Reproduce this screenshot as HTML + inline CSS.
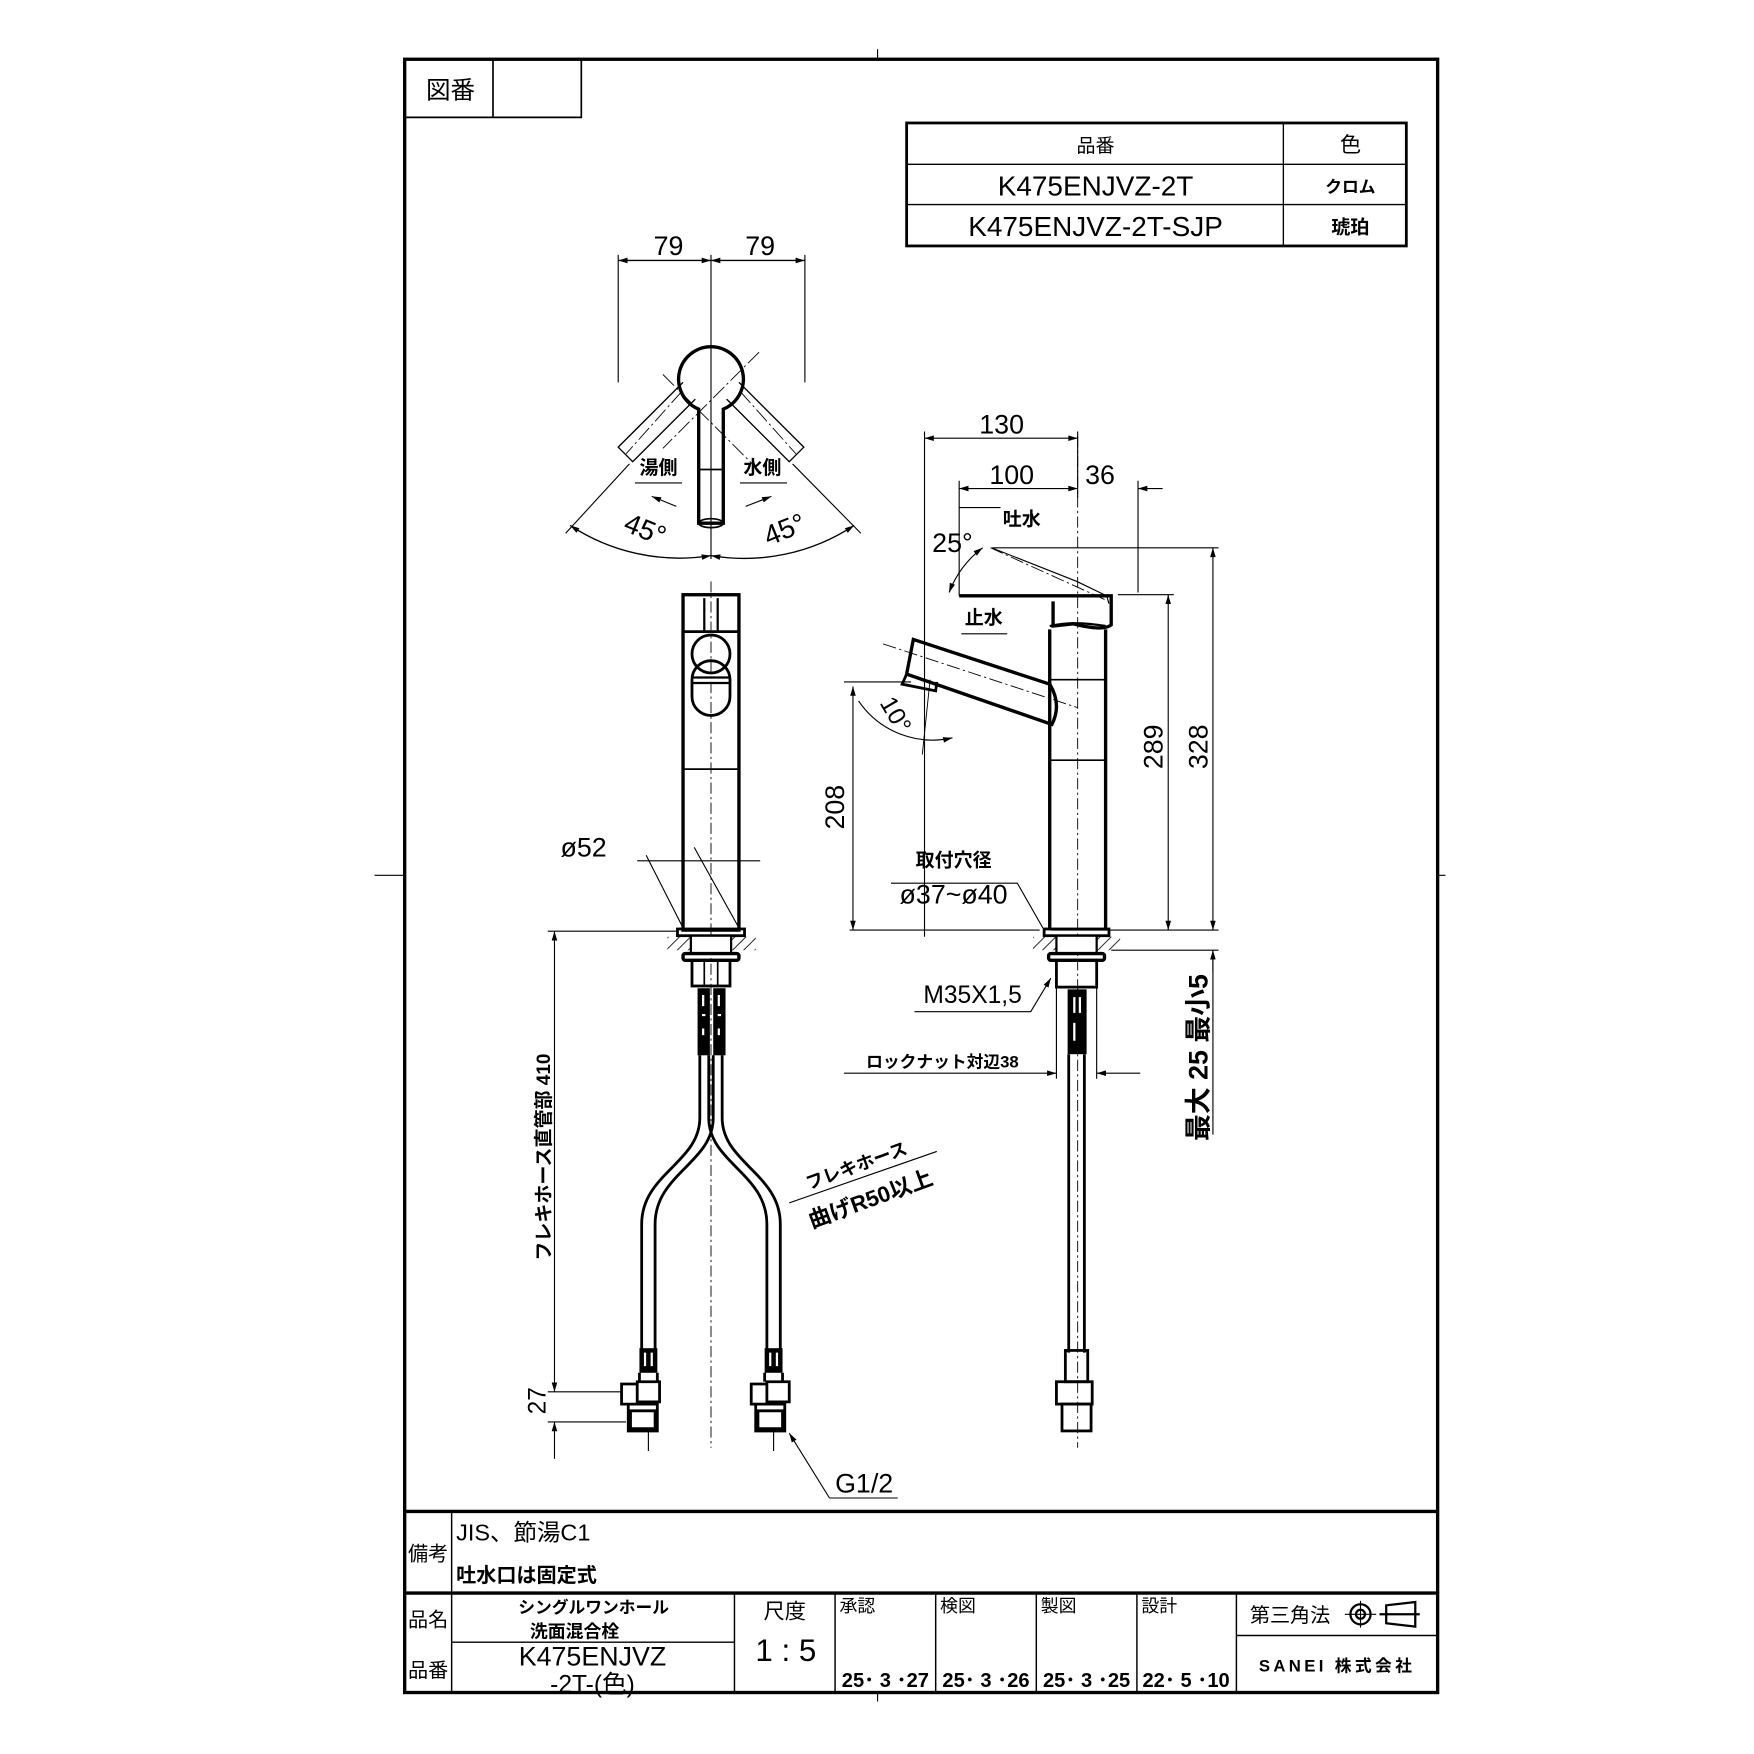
<!DOCTYPE html>
<html><head><meta charset="utf-8"><style>
html,body{margin:0;padding:0;background:#fff}
svg{display:block}
text{font-family:"Liberation Sans","Noto Sans CJK JP",sans-serif;fill:#000}
.b{font-weight:bold}
</style></head><body>
<svg width="1754" height="1754" viewBox="0 0 1569 1569" xmlns="http://www.w3.org/2000/svg">
<defs>
<marker id="a" viewBox="0 0 10 6" refX="10" refY="3" markerWidth="14" markerHeight="5" orient="auto-start-reverse" markerUnits="userSpaceOnUse"><path d="M0,0L10,3L0,6z" fill="#000"/></marker>
<pattern id="h" width="7" height="7" patternUnits="userSpaceOnUse" patternTransform="rotate(45)"><line x1="0" y1="0" x2="0" y2="7" stroke="#000" stroke-width="1.5"/></pattern>
</defs>
<g fill="none" stroke="#000">
<rect x="362" y="53" width="924" height="1461" stroke-width="3"/>
<line x1="785" y1="44" x2="785" y2="53" stroke-width="1"/>
<line x1="335" y1="783" x2="362" y2="783" stroke-width="1"/>
<line x1="1286" y1="783" x2="1293" y2="783" stroke-width="1"/>
<line x1="785" y1="1514" x2="785" y2="1522" stroke-width="1"/>
<path d="M362,105H520V53M441,53V105" stroke-width="1.5"/>
<rect x="811" y="110" width="447" height="110" stroke-width="2.5"/>
<path d="M811,147H1258M811,183H1258M1148,110V220" stroke-width="1.2"/>
<path d="M362,1352H1286M362,1425H1286" stroke-width="3"/>
<path d="M404,1352V1514M657,1425V1514M747,1425V1514M837,1425V1514M927,1425V1514M1017,1425V1514M1106,1425V1514M404,1469H657M1106,1463H1286" stroke-width="1.3"/>
</g>
<g font-size="21" text-anchor="middle">
<text x="403" y="88" font-size="22">図番</text>
<text x="980" y="136" font-size="17">品番</text>
<text x="1208" y="136" font-size="19">色</text>
<text x="980" y="175" font-size="25">K475ENJVZ-2T</text>
<text x="980" y="211" font-size="25">K475ENJVZ-2T-SJP</text>
<text x="1208" y="172" font-size="15" class="b">クロム</text>
<text x="1208" y="209" font-size="17" class="b">琥珀</text>
<text x="383" y="1396" font-size="18">備考</text>
<text x="383" y="1455" font-size="18">品名</text>
<text x="383" y="1500" font-size="18">品番</text>
<text x="408" y="1378" font-size="21" text-anchor="start">JIS、節湯C1</text>
<text x="408" y="1415" font-size="18" class="b" text-anchor="start">吐水口は固定式</text>
<text x="531" y="1443" font-size="15" class="b">シングルワンホール</text>
<text x="514" y="1465" font-size="16" class="b">洗面混合栓</text>
<text x="530" y="1490" font-size="24">K475ENJVZ</text>
<text x="530" y="1514" font-size="22">-2T-(色)</text>
<text x="702" y="1448" font-size="19">尺度</text>
<text x="703" y="1486" font-size="28">1 : 5</text>
<g font-size="16" text-anchor="start"><text x="751" y="1442">承認</text><text x="841" y="1442">検図</text><text x="931" y="1442">製図</text><text x="1021" y="1442">設計</text></g>
<g font-size="18" class="b"><text x="792" y="1509">25･ 3 ･27</text><text x="882" y="1509">25･ 3 ･26</text><text x="972" y="1509">25･ 3 ･25</text><text x="1061" y="1509">22･ 5 ･10</text></g>
<text x="1154" y="1451" font-size="18">第三角法</text>
<text x="1196" y="1495" font-size="15" class="b" letter-spacing="3">SANEI 株式会社</text>
</g>
<g fill="none" stroke="#000" stroke-width="2">
<circle cx="1217" cy="1444" r="9"/><circle cx="1217" cy="1444" r="4"/>
<path d="M1203,1444H1231M1217,1432V1456" stroke-width="1"/>
<path d="M1240,1436L1266,1433V1455L1240,1452Z M1234,1444H1270"/>
</g>

<!-- TOP VIEW -->
<g fill="none" stroke="#000">
<path d="M553,228V342M720,228V342M636,228V500" stroke-width="1"/>
<line x1="553" y1="233" x2="636" y2="233" stroke-width="1.2" marker-start="url(#a)" marker-end="url(#a)"/>
<line x1="636" y1="233" x2="720" y2="233" stroke-width="1.2" marker-start="url(#a)" marker-end="url(#a)"/>
<path d="M625,366A29,29 0 1 1 647,366V468H625Z" stroke-width="3"/>
<ellipse cx="636" cy="468" rx="11" ry="4" stroke-width="1.5"/>
<line x1="625" y1="420" x2="647" y2="420" stroke-width="1.5"/>
<path d="M611,342L553,400L566,413L622,357M661,342L719,400L706,413L650,357" stroke-width="1.2"/>
<path d="M593,335L679,421M679,315L593,401M610,350L560,406M662,350L712,406" stroke-width="0.8" stroke-dasharray="14,3,2,3"/>
<path d="M563,415L506,477M709,415L770,477" stroke-width="1"/>
<path d="M510,470A178,178 0 0 0 636,497" stroke-width="1.2" marker-start="url(#a)" marker-end="url(#a)"/>
<path d="M636,497A178,178 0 0 0 764,470" stroke-width="1.2" marker-start="url(#a)" marker-end="url(#a)"/>
<path d="M568,432H610M662,432H704" stroke-width="1"/>
<line x1="605" y1="453" x2="583" y2="444" stroke-width="1" marker-end="url(#a)"/>
<line x1="667" y1="453" x2="690" y2="444" stroke-width="1" marker-end="url(#a)"/>
</g>
<g text-anchor="middle">
<text x="598" y="228" font-size="24">79</text><text x="680" y="228" font-size="24">79</text>
<text x="589" y="424" font-size="17" class="b">湯側</text><text x="682" y="424" font-size="17" class="b">水側</text>
<text x="577" y="482" font-size="25" transform="rotate(22 577 474)">45°</text>
<text x="702" y="482" font-size="25" transform="rotate(-22 702 474)">45°</text>
</g>

<!-- FRONT VIEW -->
<g fill="none" stroke="#000">
<line x1="636" y1="520" x2="636" y2="1295" stroke-width="0.8" stroke-dasharray="10,3,2,3"/>
<rect x="611" y="532" width="50" height="300" stroke-width="3"/>
<line x1="611" y1="565" x2="661" y2="565" stroke-width="2.5"/>
<path d="M630,535V565M642,535V565" stroke-width="2"/>
<circle cx="636" cy="585" r="17" stroke-width="2.5"/>
<path d="M619,608A17,17 0 0 1 653,608V623A17,17 0 0 1 619,623Z" stroke-width="2.5"/>
<path d="M619,606H653M620,611H652" stroke-width="2"/>
<line x1="611" y1="688" x2="661" y2="688" stroke-width="1.5"/>
<rect x="606" y="831" width="60" height="6" stroke-width="2.5"/>
<rect x="597" y="838" width="79" height="12" fill="url(#h)" stroke="none"/>
<rect x="618" y="837" width="36" height="16" fill="#fff" stroke-width="2"/>
<rect x="611" y="853" width="50" height="6" stroke-width="3" rx="2"/>
<rect x="619" y="859" width="34" height="23" stroke-width="2.5"/>
<path d="M630,859V882M642,859V882" stroke-width="1.5"/>
<g fill="#000" stroke="none">
<rect x="624" y="884" width="11" height="60"/><rect x="638" y="884" width="11" height="60"/>
</g>
<g stroke="#fff" stroke-width="2">
<path d="M629,890v10M643,890v10M628,908h3M642,908h3M629,920v6M643,920v6"/>
</g>
<path d="M626,944V1000C626,1040 574,1050 574,1095V1210M638,944V1000C638,1040 586,1050 586,1095V1210" stroke-width="2.5"/>
<path d="M646,944V1000C646,1040 698,1050 698,1095V1210M634,944V1000C634,1040 686,1050 686,1095V1210" stroke-width="2.5"/>
<g fill="#000" stroke="none"><rect x="572" y="1206" width="16" height="22"/><rect x="684" y="1206" width="16" height="22"/></g>
<g stroke="#fff" stroke-width="2"><path d="M577,1210v12M583,1210v12M689,1210v12M695,1210v12"/></g>
<g stroke-width="2.5">
<path d="M556,1238h14v18h-14zM570,1236h20v18h-20zM562,1256h26v24h-26zM564,1262h22v16h-22z"/>
<path d="M672,1238h14v18h-14zM686,1236h20v18h-20zM676,1256h26v24h-26zM678,1262h22v16h-22z"/>
<path d="M572,1228v8M588,1228v8M684,1228v8M700,1228v8"/>
</g>
<path d="M580,1280V1298M692,1280V1298" stroke-width="1"/>
<path d="M490,833H606M490,1245H556M490,1272H560" stroke-width="1"/>
<line x1="496" y1="833" x2="496" y2="1245" stroke-width="1" marker-start="url(#a)" marker-end="url(#a)"/>
<line x1="496" y1="1305" x2="496" y2="1272" stroke-width="1" marker-end="url(#a)"/>
<path d="M570,770H680M578,765L611,830M621,758L661,830" stroke-width="1"/>
<line x1="706" y1="1076" x2="838" y2="1030" stroke-width="1"/>
<path d="M742,1340H803" stroke-width="1"/>
<line x1="742" y1="1340" x2="706" y2="1282" stroke-width="1" marker-end="url(#a)"/>
</g>
<g text-anchor="middle">
<text x="522" y="766" font-size="24">ø52</text>
<text x="492" y="1035" font-size="17" class="b" transform="rotate(-90 492 1035)">フレキホース直管部 410</text>
<text x="488" y="1253" font-size="22" transform="rotate(-90 488 1253)">27</text>
<text x="773" y="1335" font-size="24">G1/2</text>
<text x="768" y="1048" font-size="16" class="b" transform="rotate(-20 768 1048)">フレキホース</text>
<text x="781" y="1079" font-size="20" class="b" transform="rotate(-20 781 1079)">曲げR50以上</text>
</g>

<!-- SIDE VIEW -->
<g fill="none" stroke="#000">
<line x1="964" y1="390" x2="964" y2="1295" stroke-width="0.8" stroke-dasharray="10,3,2,3"/>
<path d="M939,563V832M989,563V832" stroke-width="3"/>
<path d="M939,608H989M939,680H989" stroke-width="1.5"/>
<path d="M858,533H994V559Q987,565 960,558L942,560V538" stroke-width="3"/>
<path d="M939,560Q960,555 989,560" stroke-width="2"/>
<path d="M887,490L963,520L990,533L992,540" stroke-width="1"/>
<path d="M886,490L992,538" stroke-width="0.8" stroke-dasharray="12,3,2,3"/>
<path d="M817,572L939,612Q950,630 941,648L811,603Z" stroke-width="3"/>
<path d="M811,603L807,612L837,618L838,610" stroke-width="2.5"/>
<path d="M790,576L964,633" stroke-width="0.8" stroke-dasharray="12,3,2,3"/>
<rect x="934" y="831" width="58" height="6" stroke-width="2.5"/>
<rect x="924" y="838" width="78" height="12" fill="url(#h)" stroke="none"/>
<rect x="945" y="837" width="36" height="16" fill="#fff" stroke-width="2"/>
<rect x="938" y="853" width="50" height="6" stroke-width="3" rx="2"/>
<rect x="945" y="859" width="36" height="24" stroke-width="2.5"/>
<rect x="955" y="885" width="17" height="58" fill="#000" stroke="none"/>
<path d="M961,892v14M966,892v14M961,915v16" stroke="#fff" stroke-width="2"/>
<path d="M956,943V1210M970,943V1210" stroke-width="2.5"/>
<g stroke-width="2.5"><rect x="953" y="1208" width="20" height="28"/><rect x="945" y="1236" width="32" height="20"/><rect x="950" y="1256" width="26" height="24"/></g>
<path d="M827,386V838M964,386V445M858,430V533M1018,430V530" stroke-width="1"/>
<line x1="827" y1="392" x2="964" y2="392" stroke-width="1" marker-start="url(#a)" marker-end="url(#a)"/>
<line x1="858" y1="437" x2="964" y2="437" stroke-width="1" marker-start="url(#a)" marker-end="url(#a)"/>
<line x1="1040" y1="437" x2="1018" y2="437" stroke-width="1" marker-end="url(#a)"/>
<path d="M888,490H1090M940,832H1090M994,850H1090M755,610H815M760,832H930M1000,532H1050" stroke-width="1"/>
<line x1="1045" y1="832" x2="1045" y2="532" stroke-width="1" marker-start="url(#a)" marker-end="url(#a)"/>
<line x1="1085" y1="832" x2="1085" y2="490" stroke-width="1" marker-start="url(#a)" marker-end="url(#a)"/>
<line x1="763" y1="832" x2="763" y2="614" stroke-width="1" marker-start="url(#a)" marker-end="url(#a)"/>
<line x1="1085" y1="850" x2="1085" y2="1015" stroke-width="1"/>
<line x1="1085" y1="870" x2="1085" y2="850" stroke-width="1" marker-end="url(#a)"/>
<path d="M879,490A90,90 0 0 0 849,530" stroke-width="1" marker-start="url(#a)" marker-end="url(#a)"/>
<path d="M825,675L832,608" stroke-width="0.8"/>
<path d="M768,627A80,80 0 0 0 852,660" stroke-width="1" marker-end="url(#a)"/>
<path d="M797,790H910L934,832" stroke-width="1"/>
<path d="M818,905H922L940,875" stroke-width="1" marker-end="url(#a)"/>
<path d="M945,875V965M981,875V965" stroke-width="1"/>
<line x1="755" y1="960" x2="945" y2="960" stroke-width="1" marker-end="url(#a)"/>
<line x1="1020" y1="960" x2="981" y2="960" stroke-width="1" marker-end="url(#a)"/>
<path d="M860,567H901M858,454H895" stroke-width="1"/>
</g>
<g text-anchor="middle">
<text x="896" y="388" font-size="24">130</text>
<text x="905" y="433" font-size="24">100</text>
<text x="984" y="433" font-size="24">36</text>
<text x="914" y="470" font-size="17" class="b">吐水</text>
<text x="880" y="558" font-size="17" class="b">止水</text>
<text x="852" y="494" font-size="24">25°</text>
<text x="800" y="646" font-size="22" transform="rotate(60 800 640)">10°</text>
<text x="755" y="722" font-size="24" transform="rotate(-90 755 722)">208</text>
<text x="1040" y="668" font-size="24" transform="rotate(-90 1040 668)">289</text>
<text x="1080" y="668" font-size="24" transform="rotate(-90 1080 668)">328</text>
<text x="853" y="775" font-size="17" class="b">取付穴径</text>
<text x="853" y="808" font-size="24">ø37~ø40</text>
<text x="870" y="897" font-size="22">M35X1,5</text>
<text x="843" y="955" font-size="15" class="b">ロックナット対辺38</text>
<text x="1080" y="946" font-size="24" class="b" transform="rotate(-90 1080 946)">最大 25  最小5</text>
</g>
</svg>
</body></html>
